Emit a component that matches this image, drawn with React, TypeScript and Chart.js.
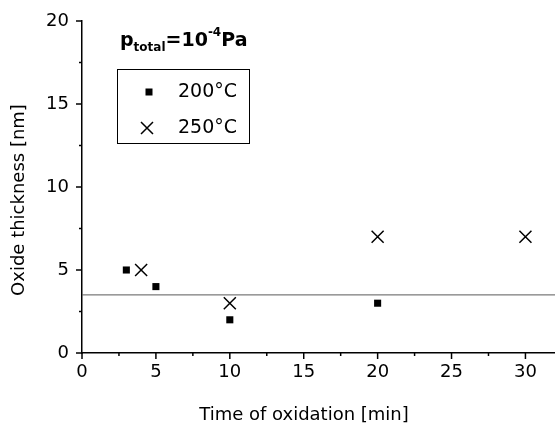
import React, { useEffect, useRef } from "react";
import { Chart, registerables } from "chart.js";

Chart.register(...registerables);

// ---- data ----
const series200Label = "200°C";
const series200Time = [3, 5, 10, 20];
const series200Thickness = [5, 4, 2, 3];

const series250Label = "250°C";
const series250Time = [4, 10, 20, 30];
const series250Thickness = [5, 3, 7, 7];

const referenceLevel = 3.5;

const xRange = [0, 32];
const yRange = [0, 20];
const xMajorTicks = [0, 5, 10, 15, 20, 25, 30];
const xMinorTicks = [2.5, 7.5, 12.5, 17.5, 22.5, 27.5];
const yMajorTicks = [0, 5, 10, 15, 20];
const yMinorTicks = [2.5, 7.5, 12.5, 17.5];

const xTitle = "Time of oxidation [min]";
const yTitle = "Oxide thickness [nm]";

const FONT = '"DejaVu Sans", "Liberation Sans", Arial, sans-serif';

const ticksPlugin = {
  id: "customTicks",
  afterDraw(chart: any) {
    const ctx = chart.ctx;
    const xs = chart.scales.x;
    const ys = chart.scales.y;
    const ca = chart.chartArea;
    ctx.save();
    ctx.strokeStyle = "#000";
    ctx.lineWidth = 1.5;
    xMajorTicks.forEach((v) => {
      const px = xs.getPixelForValue(v);
      ctx.beginPath();
      ctx.moveTo(px, ca.bottom);
      ctx.lineTo(px, ca.bottom + 6);
      ctx.stroke();
    });
    xMinorTicks.forEach((v) => {
      const px = xs.getPixelForValue(v);
      ctx.beginPath();
      ctx.moveTo(px, ca.bottom);
      ctx.lineTo(px, ca.bottom + 3);
      ctx.stroke();
    });
    yMajorTicks.forEach((v) => {
      const py = ys.getPixelForValue(v);
      ctx.beginPath();
      ctx.moveTo(ca.left, py);
      ctx.lineTo(ca.left - 6, py);
      ctx.stroke();
    });
    yMinorTicks.forEach((v) => {
      const py = ys.getPixelForValue(v);
      ctx.beginPath();
      ctx.moveTo(ca.left, py);
      ctx.lineTo(ca.left - 3, py);
      ctx.stroke();
    });
    ctx.restore();
  },
};

const annotationPlugin = {
  id: "annotations",
  afterDraw(chart: any) {
    const ctx = chart.ctx;
    ctx.save();
    ctx.fillStyle = "#000";

    // axis titles
    ctx.font = `18px ${FONT}`;
    ctx.textAlign = "center";
    ctx.textBaseline = "alphabetic";
    ctx.fillText(xTitle, 304, 420);

    ctx.save();
    ctx.translate(19, 200);
    ctx.rotate(-Math.PI / 2);
    ctx.textBaseline = "middle";
    ctx.fillText(yTitle, 0, 0);
    ctx.restore();

    ctx.textBaseline = "alphabetic";
    ctx.textAlign = "left";
    // title p_total = 10^-4 Pa
    let x = 120;
    const base = 46;
    const big = `bold 19px ${FONT}`;
    const small = `bold 12px ${FONT}`;
    ctx.font = big;
    ctx.fillText("p", x, base);
    x += ctx.measureText("p").width;
    ctx.font = small;
    ctx.fillText("total", x, base + 5);
    x += ctx.measureText("total").width;
    ctx.font = big;
    ctx.fillText("=10", x, base);
    x += ctx.measureText("=10").width;
    ctx.font = small;
    ctx.fillText("-4", x, base - 10);
    x += ctx.measureText("-4").width;
    ctx.font = big;
    ctx.fillText("Pa", x, base);

    // legend box
    ctx.strokeStyle = "#000";
    ctx.lineWidth = 1;
    ctx.strokeRect(117.5, 69.5, 132, 74);
    ctx.font = `19px ${FONT}`;
    ctx.textBaseline = "middle";
    const ds = chart.data.datasets;
    ctx.fillRect(149 - 3.5, 92 - 3.5, 7, 7);
    ctx.fillText(ds[0].label, 178, 92);
    ctx.lineWidth = 1.5;
    ctx.beginPath();
    ctx.moveTo(147 - 6, 128 - 6);
    ctx.lineTo(147 + 6, 128 + 6);
    ctx.moveTo(147 + 6, 128 - 6);
    ctx.lineTo(147 - 6, 128 + 6);
    ctx.stroke();
    ctx.fillText(ds[1].label, 178, 128);
    ctx.restore();
  },
};

export default function App() {
  const ref = useRef<HTMLCanvasElement | null>(null);

  useEffect(() => {
    document.body.style.margin = "0";
    const canvas = ref.current;
    if (!canvas) return;
    const chart = new Chart(canvas, {
      type: "scatter",
      data: {
        datasets: [
          {
            label: series200Label,
            data: series200Time.map((t, i) => ({ x: t, y: series200Thickness[i] })),
            pointStyle: "rect",
            pointRadius: 5,
            backgroundColor: "#000",
            borderColor: "#000",
            borderWidth: 0,
          },
          {
            label: series250Label,
            data: series250Time.map((t, i) => ({ x: t, y: series250Thickness[i] })),
            pointStyle: "crossRot",
            pointRadius: 8.5,
            backgroundColor: "#000",
            borderColor: "#000",
            borderWidth: 1.5,
          },
          {
            label: "",
            type: "line",
            data: [
              { x: xRange[0], y: referenceLevel },
              { x: xRange[1], y: referenceLevel },
            ],
            borderColor: "rgb(90,90,90)",
            borderWidth: 1,
            pointRadius: 0,
            fill: false,
          } as any,
        ],
      },
      options: {
        responsive: false,
        animation: false,
        layout: { autoPadding: false, padding: { top: 21, right: 0, bottom: 0, left: 0 } },
        plugins: {
          legend: { display: false },
          tooltip: { enabled: false },
        },
        scales: {
          x: {
            type: "linear",
            min: xRange[0],
            max: xRange[1],
            afterBuildTicks: (s: any) => {
              s.ticks = xMajorTicks.map((v) => ({ value: v }));
            },
            afterFit: (s: any) => {
              s.height = 74;
              s.paddingRight = 0;
              s.paddingLeft = 0;
            },
            grid: { display: false, drawTicks: false },
            border: { display: true, color: "#000", width: 1.5 },
            ticks: {
              color: "#000",
              font: { family: FONT, size: 18 },
              padding: 9,
              maxRotation: 0,
            },
          },
          y: {
            type: "linear",
            min: yRange[0],
            max: yRange[1],
            afterBuildTicks: (s: any) => {
              s.ticks = yMajorTicks.map((v) => ({ value: v }));
            },
            afterFit: (s: any) => {
              s.width = 82;
              s.paddingTop = 0;
              s.paddingBottom = 0;
            },
            grid: { display: false, drawTicks: false },
            border: { display: true, color: "#000", width: 1.5 },
            ticks: {
              color: "#000",
              font: { family: FONT, size: 18 },
              padding: 13,
            },
          },
        },
      },
      plugins: [ticksPlugin, annotationPlugin],
    } as any);
    return () => chart.destroy();
  }, []);

  return <canvas ref={ref} width={555} height={427} style={{ display: "block" }} />;
}
